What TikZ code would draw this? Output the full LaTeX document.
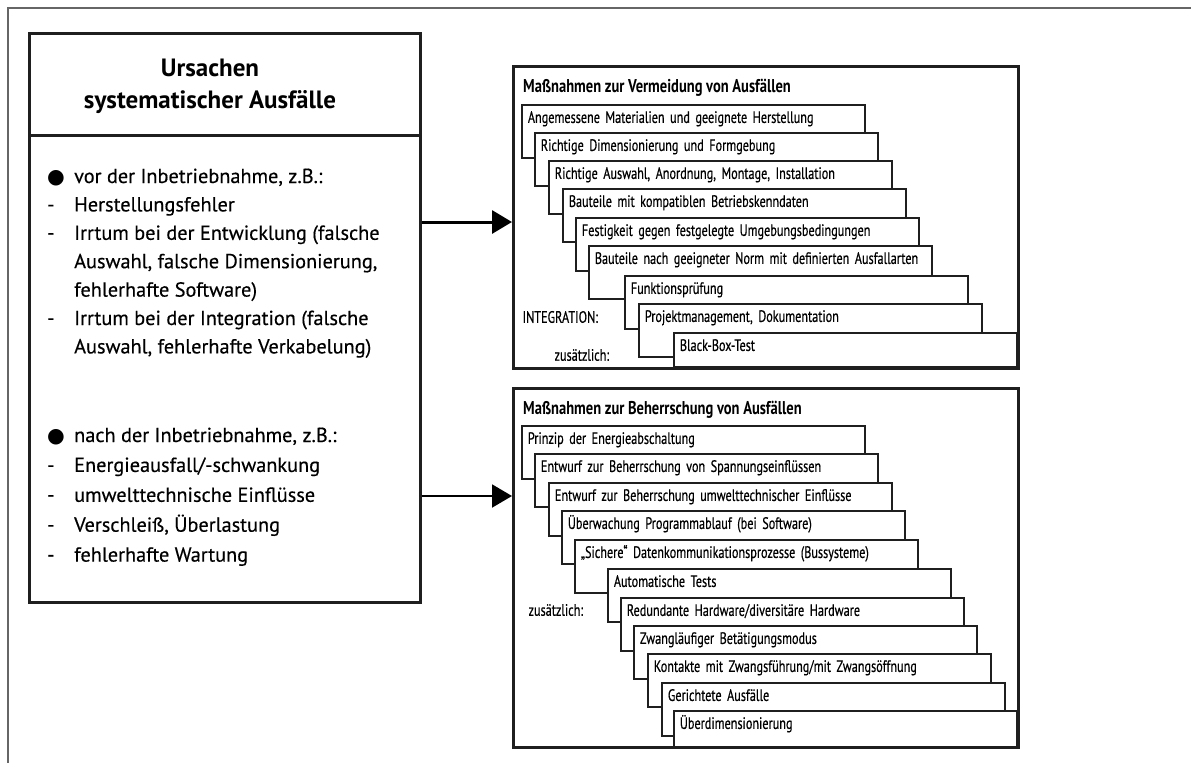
\documentclass[tikz,border=0pt]{standalone}
\usepackage{fontspec}
\setmainfont{PT Sans}
\newfontfamily\causefont{PT Sans}[FakeBold=0.4]
\newfontfamily\stepfont{PT Sans}[FakeStretch=0.74, FakeBold=0.5]
\newfontfamily\titlefont{PT Sans}[FakeStretch=0.785]
\newfontfamily\symfont{DejaVu Sans}
\usetikzlibrary{arrows.meta}

\begin{document}
\begin{tikzpicture}[x=1pt, y=-1pt, >={Triangle[length=20pt, width=23pt]},
    font=\stepfont\fontsize{16.5}{20}\selectfont,
    group/.style={draw=black!88, line width=2.6pt, rectangle, anchor=north west, inner sep=0pt},
    stepbox/.style={draw=black!88, line width=1.8pt, fill=white, rectangle, anchor=north west,
        inner xsep=6pt, inner ysep=2pt, text width=331pt, text height=16pt, text depth=33pt, align=left},
    boxtitle/.style={anchor=west, inner sep=0pt, font=\titlefont\bfseries\fontsize{18.5}{22}\selectfont},
    causes/.style={anchor=base west, inner sep=0pt, font=\causefont\fontsize{20.3}{28.4}\selectfont}]
        \useasboundingbox (0,0) rectangle (1191,763);

        % Frame
        \draw[black!60, line width=1.5pt] (1191,8) -- (8,8) -- (8,763);

        % Causes
        \node[group, minimum width=391pt, minimum height=102pt] (head) at (28,32) {};
        \node[align=center, font=\rmfamily\bfseries\fontsize{25}{32}\selectfont] (headtitle) at (210,86) {Ursachen\\systematischer Ausfälle};
        \node[group, minimum width=391pt, minimum height=467pt] (cause) at (28,134) {};
        \node[causes] (before) at (47,183) {\begin{tabular}[t]{@{}p{27pt}@{}l@{}}
            {\symfont ●} & vor der Inbetriebnahme, z.B.: \\
            - & Herstellungsfehler \\
            - & Irrtum bei der Entwicklung (falsche \\
              & Auswahl, falsche Dimensionierung, \\
              & fehlerhafte Software) \\
            - & Irrtum bei der Integration (falsche \\
              & Auswahl, fehlerhafte Verkabelung)
        \end{tabular}};
        \node[causes, font=\causefont\fontsize{20.3}{29.9}\selectfont] (after) at (47,442) {\begin{tabular}[t]{@{}p{27pt}@{}l@{}}
            {\symfont ●} & nach der Inbetriebnahme, z.B.: \\
            - & Energieausfall/-schwankung \\
            - & umwelttechnische Einflüsse \\
            - & Verschleiß, Überlastung \\
            - & fehlerhafte Wartung
        \end{tabular}};

        % Avoidance
        \node[group, minimum width=505pt, minimum height=302pt] (avoid) at (512,65) {};
        \node[boxtitle] (avoidtitle) at (523,88) {Maßnahmen zur Vermeidung von Ausfällen};
        \node[stepbox] (v1) at (521,104) {Angemessene Materialien und geeignete Herstellung};
        \node[stepbox] (v2) at (534,132) {Richtige Dimensionierung und Formgebung};
        \node[stepbox] (v3) at (548,160) {Richtige Auswahl, Anordnung, Montage, Installation};
        \node[stepbox] (v4) at (562,188) {Bauteile mit kompatiblen Betriebskenndaten};
        \node[stepbox] (v5) at (575,217) {Festigkeit gegen festgelegte Umgebungsbedingungen};
        \node[stepbox] (v6) at (588,245) {\mbox{Bauteile nach geeigneter Norm mit definierten Ausfallarten}};
        \node[stepbox] (v7) at (624,275) {Funktionsprüfung};
        \node[stepbox] (v8) at (638,303) {Projektmanagement, Dokumentation};
        \node[stepbox, text depth=14pt] (v9) at (673,332) {Black-Box-Test};
        \node[anchor=west] (integration) at (519,317) {INTEGRATION:};
        \node[anchor=west] (extra1) at (551,355) {zusätzlich:};

        % Control
        \node[group, minimum width=505pt, minimum height=359pt] (control) at (512,387) {};
        \node[boxtitle] (controltitle) at (523,410) {Maßnahmen zur Beherrschung von Ausfällen};
        \node[stepbox] (b1) at (521,425) {Prinzip der Energieabschaltung};
        \node[stepbox] (b2) at (534,453) {Entwurf zur Beherrschung von Spannungseinflüssen};
        \node[stepbox] (b3) at (548,482) {Entwurf zur Beherrschung umwelttechnischer Einflüsse};
        \node[stepbox] (b4) at (561,510) {Überwachung Programmablauf (bei Software)};
        \node[stepbox] (b5) at (574,539) {„Sichere“ Datenkommunikationsprozesse (Bussysteme)};
        \node[stepbox] (b6) at (607,568) {Automatische Tests};
        \node[stepbox] (b7) at (620,597) {Redundante Hardware/diversitäre Hardware};
        \node[stepbox] (b8) at (633,625) {Zwangläufiger Betätigungsmodus};
        \node[stepbox] (b9) at (647,653) {Kontakte mit Zwangsführung/mit Zwangsöffnung};
        \node[stepbox] (b10) at (661,682) {Gerichtete Ausfälle};
        \node[stepbox, text depth=16pt] (b11) at (673,710) {Überdimensionierung};
        \node[anchor=west] (extra2) at (525,610) {zusätzlich:};

        % Relations
        \coordinate (in1) at (512,222);
        \coordinate (in2) at (512,496);
        \draw[->, line width=3pt] (cause.east |- in1) -- (in1);
        \draw[->, line width=2pt] (cause.east |- in2) -- (in2);
    \end{tikzpicture}
\end{document}
